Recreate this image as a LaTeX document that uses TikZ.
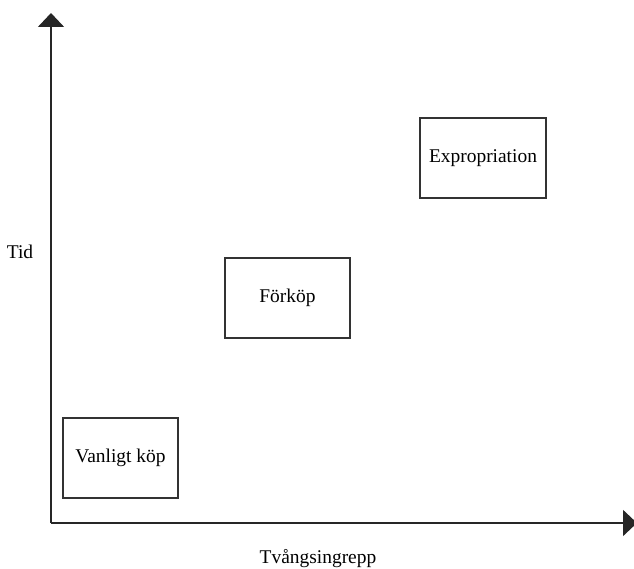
\documentclass[tikz,border=0pt]{standalone}
\usepackage{fontspec}
\setmainfont{Liberation Serif}
\usetikzlibrary{arrows.meta}
\begin{document}
\begin{tikzpicture}[x=1bp,y=-1bp,
  boxnode/.style={draw=black!80,line width=1.3bp,minimum width=0,inner sep=0,font=\fontsize{19.5}{23}\selectfont},
  lbl/.style={font=\fontsize{19.5}{23}\selectfont,inner sep=0},
  axis/.style={draw=black!85,line width=1.6bp,-{Triangle[length=14bp,width=26bp]}}]
\useasboundingbox (0,0) rectangle (634,569);
\fill[white] (0,0) rectangle (634,569);
\coordinate (o) at (51,523);
\coordinate (ytip) at (51,13);
\coordinate (xtip) at (637,523);
\draw[axis] (o) -- (ytip);
\draw[axis] (o) -- (xtip);
\node[boxnode,minimum width=115bp,minimum height=80bp] (vk) at (120.5,458) {Vanligt köp};
\node[boxnode,minimum width=125bp,minimum height=80bp] (fk) at (287.5,298) {Förköp};
\node[boxnode,minimum width=126bp,minimum height=80bp] (ex) at (483,158) {Expropriation};
\node[lbl] (tid) at (20,252) {Tid};
\node[lbl] (tv) at (318,559) {Tvångsingrepp};
\end{tikzpicture}
\end{document}
